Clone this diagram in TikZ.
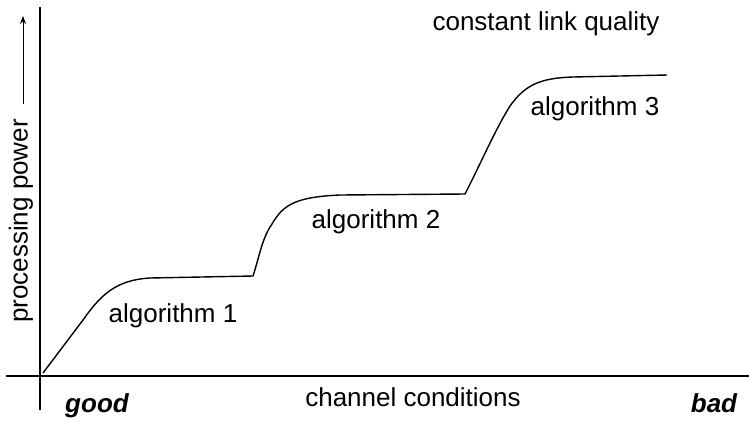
\documentclass[tikz,border=0pt]{standalone}
\usepackage{fontspec}
\setmainfont{Liberation Sans}
\usetikzlibrary{arrows.meta}
\tikzset{
  lbl/.style={font=\fontsize{26}{30}\selectfont, inner sep=0pt, anchor=center},
  ital/.style={lbl, font=\fontsize{26}{30}\selectfont\bfseries\itshape},
  axis/.style={line width=1.4pt},
  curve/.style={line width=1.4pt, line join=round}
}
\begin{document}
\begin{tikzpicture}[x=1pt,y=-1pt]
  \useasboundingbox (0,0) rectangle (749,421);
  % axes
  \coordinate (ytop) at (40,7);
  \coordinate (ybot) at (40,410);
  \coordinate (xl) at (6,376);
  \coordinate (xr) at (749,376);
  \draw[axis] (ybot) -- (ytop);
  \draw[axis] (xl) -- (xr);
  % processing power vs. channel conditions, three stepped regimes
  \draw[curve] (43,373) -- (83,320) .. controls (100,296) and (115,280) .. (150,278)
    -- (253,276)
    .. controls (259,258) and (262,238) .. (272,224)
    .. controls (283,205) and (295,197) .. (340,195)
    -- (465,194)
    .. controls (480,165) and (495,130) .. (510,106)
    .. controls (525,85) and (540,78) .. (573,77)
    -- (667,75);
  % labels
  \node[lbl] (a1) at (173,316) {algorithm 1};
  \node[lbl] (a2) at (376,222) {algorithm 2};
  \node[lbl] (a3) at (595,109) {algorithm 3};
  \node[lbl] (clq) at (546,24) {constant link quality};
  \node[lbl, anchor=base] (cc) at (413,406) {channel conditions};
  \node[ital, anchor=base] (good) at (97,412) {good};
  \node[ital, anchor=base] (bad) at (714,412) {bad};
  \node[lbl, rotate=90] (pp) at (21,221) {processing power};
  \coordinate (pa) at (23,104);
  \coordinate (pb) at (23,16);
  \draw[line width=0.8pt, -{Stealth[length=8pt,width=6pt]}] (pa) -- (pb);
\end{tikzpicture}
\end{document}
